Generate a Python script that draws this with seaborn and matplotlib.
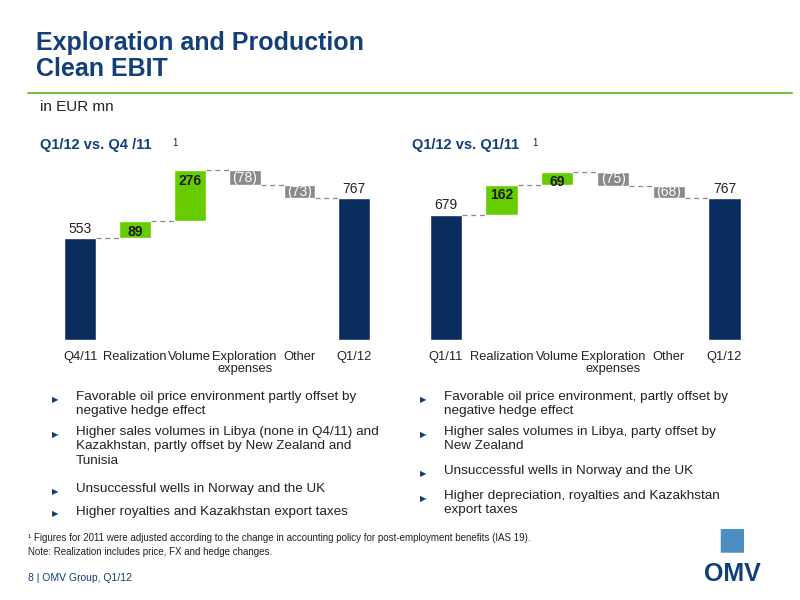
import matplotlib
matplotlib.use("Agg")
import matplotlib.pyplot as plt
import seaborn as sns
import numpy as np

categories_left = ["Q4/11", "Realization", "Volume", "Exploration\nexpenses", "Other", "Q1/12"]
categories_right = ["Q1/11", "Realization", "Volume", "Exploration\nexpenses", "Other", "Q1/12"]
values_left = [553, 89, 276, -78, -73, 767]
values_right = [679, 162, 69, -75, -68, 767]

NAVY = "#0b2d5e"
GREEN = "#66cc00"
GRAY = "#8a8a8a"
TITLE = "#123f7a"

sns.set_theme(style="white")
plt.rcParams["font.family"] = ["Liberation Sans", "DejaVu Sans"]

fig = plt.figure(figsize=(8, 6), dpi=100)


def waterfall(ax, cats, vals):
    n = len(vals)
    bottoms, heights, colors = [], [], []
    level = 0
    for i, v in enumerate(vals):
        if i == 0 or i == n - 1:
            bottoms.append(0)
            heights.append(v)
            colors.append(NAVY)
            level = v
        else:
            if v >= 0:
                bottoms.append(level)
                colors.append(GREEN)
            else:
                bottoms.append(level + v)
                colors.append(GRAY)
            heights.append(abs(v))
            level += v
    x = np.arange(n)
    ax.bar(x, heights, bottom=bottoms, color=colors, width=0.58)
    # connectors
    level = 0
    for i, v in enumerate(vals[:-1]):
        level = v if i == 0 else level + v
        ax.plot([i + 0.29, i + 1 - 0.29], [level, level], color=GRAY, lw=0.9, ls=(0, (4, 3)))
    for i, v in enumerate(vals):
        top = bottoms[i] + heights[i]
        if i == 0 or i == n - 1:
            ax.text(i, top + 12, f"{v}", ha="center", va="bottom", fontsize=10, color="#222222")
        elif v >= 0:
            ax.text(i, top - 18, f"{v}", ha="center", va="top", fontsize=10,
                    fontweight="bold", color="#1a1a1a")
        else:
            ax.text(i, bottoms[i] + heights[i] / 2, f"({-v})", ha="center", va="center",
                    fontsize=10, color="white")
    ax.set_xticks(x)
    ax.set_xticklabels(cats, fontsize=9.3, color="#222222", linespacing=1.0)
    ax.tick_params(axis="x", length=0, pad=8)
    ax.set_yticks([])
    ax.set_xlim(-0.55, n - 0.45)
    ax.set_ylim(0, 973)
    for s in ax.spines.values():
        s.set_visible(False)


ax1 = fig.add_axes([0.0625, 0.433, 0.418, 0.30])
waterfall(ax1, categories_left, values_left)
ax2 = fig.add_axes([0.519, 0.433, 0.425, 0.30])
waterfall(ax2, categories_right, values_right)

# slide text
fig.text(0.045, 0.948, "Exploration and Production\nClean EBIT", fontsize=18, fontweight="bold",
         color=TITLE, va="top", linespacing=1.1)
fig.add_artist(plt.Line2D([0.035, 0.99], [0.845, 0.845], color="#7ac143", lw=1.5))
fig.text(0.05, 0.822, "in EUR mn", fontsize=11, color="#222222", va="center")
fig.text(0.05, 0.758, "Q1/12 vs. Q4 /11", fontsize=10.5, fontweight="bold", color=TITLE, va="center")
fig.text(0.215, 0.762, "1", fontsize=7, color="#222222", va="center")
fig.text(0.515, 0.758, "Q1/12 vs. Q1/11", fontsize=10.5, fontweight="bold", color=TITLE, va="center")
fig.text(0.665, 0.762, "1", fontsize=7, color="#222222", va="center")

bullets_left = [
    "Favorable oil price environment partly offset by\nnegative hedge effect",
    "Higher sales volumes in Libya (none in Q4/11) and\nKazakhstan, partly offset by New Zealand and\nTunisia",
    "Unsuccessful wells in Norway and the UK",
    "Higher royalties and Kazakhstan export taxes",
]
bullets_right = [
    "Favorable oil price environment, partly offset by\nnegative hedge effect",
    "Higher sales volumes in Libya, party offset by\nNew Zealand",
    "Unsuccessful wells in Norway and the UK",
    "Higher depreciation, royalties and Kazakhstan\nexport taxes",
]
left_y = [0.348, 0.29, 0.195, 0.157]
right_y = [0.348, 0.29, 0.225, 0.183]
for bl, ys, x0 in [(bullets_left, left_y, 0.065), (bullets_right, right_y, 0.525)]:
    for b, y in zip(bl, ys):
        fig.text(x0, y - 0.006, "\u25B6", fontsize=6, color=TITLE, va="top", family=["DejaVu Sans"])
        fig.text(x0 + 0.03, y, b, fontsize=9.7, color="#222222", va="top", linespacing=1.25)

fig.text(0.035, 0.103, "\u00b9 Figures for 2011 were adjusted according to the change in accounting policy for post-employment benefits (IAS 19).",
         fontsize=7, color="#222222", va="center")
fig.text(0.035, 0.08, "Note: Realization includes price, FX and hedge changes.", fontsize=7, color="#222222", va="center")
fig.text(0.035, 0.037, "8 | OMV Group, Q1/12", fontsize=7.5, color=TITLE, va="center")
fig.text(0.915, 0.043, "OMV", fontsize=18, fontweight="bold", color=TITLE, ha="center", va="center")
fig.text(0.915, 0.1, "\u25A0", fontsize=22, color="#4a8ec4", ha="center", va="center", family=["DejaVu Sans"])

fig.savefig("out.png", dpi=100)
